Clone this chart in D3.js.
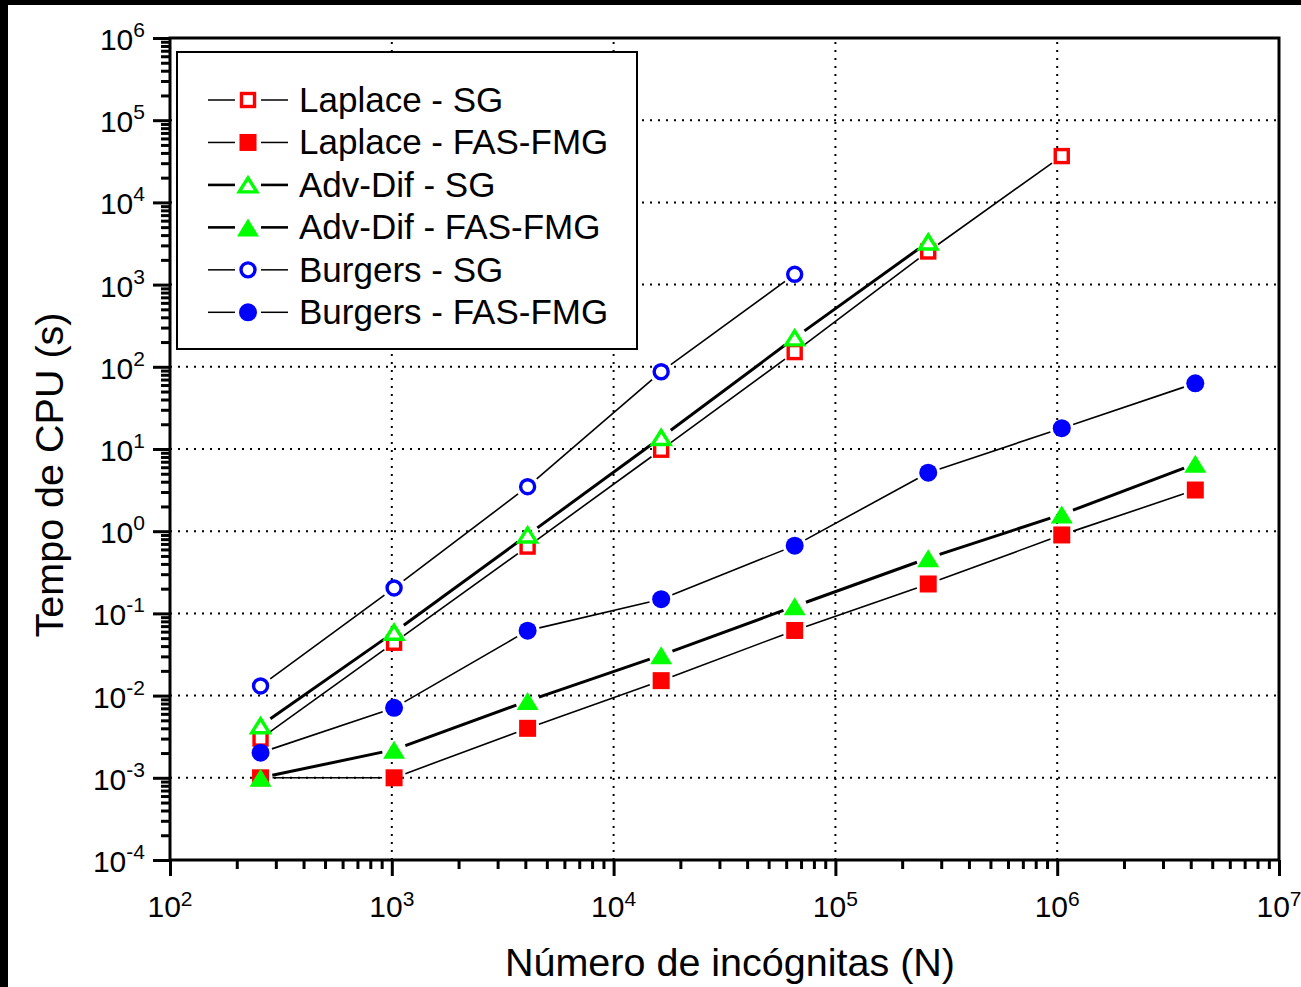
<!DOCTYPE html>
<html>
<head>
<meta charset="utf-8">
<script src="https://cdn.jsdelivr.net/npm/d3@7"></script>
<style>
  html, body { margin: 0; padding: 0; background: #fff; }
  svg { display: block; }
  text { font-family: "Liberation Sans", Arial, Helvetica, sans-serif; fill: #000; }
</style>
</head>
<body>
<svg id="chart" width="1301" height="987"></svg>
<script>
// Number of unknowns (N) for each grid level
const unknowns = [256, 1024, 4096, 16384, 65536, 262144, 1048576, 4194304];

// CPU time (s) for each solver / problem
const laplaceSG  = [0.0030, 0.044, 0.65, 9.8, 151, 2530, 36600];
const laplaceFAS = [0.001, 0.001, 0.0040, 0.0152, 0.062, 0.228, 0.90, 3.17];
const advDifSG   = [0.0043, 0.059, 0.90, 13.8, 225, 3300];
const advDifFAS  = [0.001, 0.0022, 0.0086, 0.031, 0.122, 0.47, 1.6, 6.6];
const burgersSG  = [0.0131, 0.204, 3.48, 87, 1334];
const burgersFAS = [0.00202, 0.0071, 0.0617, 0.149, 0.667, 5.15, 17.9, 63];

const seriesNames = ["Laplace - SG", "Laplace - FAS-FMG", "Adv-Dif - SG", "Adv-Dif - FAS-FMG", "Burgers - SG", "Burgers - FAS-FMG"];

// Axis tick exponents
const xExponents = [2, 3, 4, 5, 6, 7];
const yExponents = [-4, -3, -2, -1, 0, 1, 2, 3, 4, 5, 6];

const axisTitleX = "Número de incógnitas (N)";
const axisTitleY = "Tempo de CPU (s)";

const series = [
  { name: seriesNames[0], values: laplaceSG,  color: "#ff0000", shape: "square",   filled: false, lw: 1.6 },
  { name: seriesNames[1], values: laplaceFAS, color: "#ff0000", shape: "square",   filled: true,  lw: 1.6 },
  { name: seriesNames[2], values: advDifSG,   color: "#00ff00", shape: "triangle", filled: false, lw: 3 },
  { name: seriesNames[3], values: advDifFAS,  color: "#00ff00", shape: "triangle", filled: true,  lw: 3 },
  { name: seriesNames[4], values: burgersSG,  color: "#0000ff", shape: "circle",   filled: false, lw: 1.6 },
  { name: seriesNames[5], values: burgersFAS, color: "#0000ff", shape: "circle",   filled: true,  lw: 1.6 }
];

const svg = d3.select("#chart");

// Page frame strips
svg.append("rect").attr("x", 0).attr("y", 0).attr("width", 1301).attr("height", 987).attr("fill", "#fff");
svg.append("rect").attr("x", 0).attr("y", 0).attr("width", 8).attr("height", 987).attr("fill", "#000");
svg.append("rect").attr("x", 0).attr("y", 0).attr("width", 1301).attr("height", 5).attr("fill", "#000");

const plotLeft = 170, plotRight = 1279, plotTop = 38, plotBottom = 860;

const x = d3.scaleLog().domain([1e2, 1e7]).range([plotLeft, plotRight]);
const y = d3.scaleLog().domain([1e-4, 1e6]).range([plotBottom, plotTop]);

const xMajor = xExponents.map(e => Math.pow(10, e));
const yMajor = yExponents.map(e => Math.pow(10, e));
const minorOf = (majors) => {
  const out = [];
  for (let i = 0; i < majors.length - 1; i++)
    for (let k = 2; k <= 9; k++) out.push(majors[i] * k);
  return out;
};
const xMinor = minorOf(xMajor);
const yMinor = minorOf(yMajor);

// Dotted grid at inner decades
const grid = svg.append("g").attr("stroke", "#000").attr("stroke-width", 2).attr("stroke-dasharray", "2,6");
xMajor.slice(1, -1).forEach(v => {
  grid.append("line").attr("x1", x(v)).attr("x2", x(v)).attr("y1", plotBottom).attr("y2", plotTop);
});
yMajor.slice(1, -1).forEach(v => {
  grid.append("line").attr("x1", plotLeft).attr("x2", plotRight).attr("y1", y(v)).attr("y2", y(v));
});

// Connecting lines, trimmed to leave a gap around each marker
const gap = 12;
const linesG = svg.append("g").attr("stroke", "#000").attr("fill", "none");
series.forEach(s => {
  const pts = s.values.map((v, i) => [x(unknowns[i]), y(v)]);
  for (let i = 0; i < pts.length - 1; i++) {
    const [x0, y0] = pts[i], [x1, y1] = pts[i + 1];
    const dx = x1 - x0, dy = y1 - y0, len = Math.hypot(dx, dy);
    if (len <= 2 * gap) continue;
    const ux = dx / len, uy = dy / len;
    linesG.append("line")
      .attr("x1", x0 + ux * gap).attr("y1", y0 + uy * gap)
      .attr("x2", x1 - ux * gap).attr("y2", y1 - uy * gap)
      .attr("stroke-width", s.lw);
  }
});

// Marker drawing
function drawMarker(g, shape, filled, color, cx, cy) {
  if (shape === "square") {
    if (filled) {
      g.append("rect").attr("x", cx - 8.5).attr("y", cy - 8.5).attr("width", 17).attr("height", 17).attr("fill", color);
    } else {
      g.append("rect").attr("x", cx - 6.5).attr("y", cy - 6.5).attr("width", 13).attr("height", 13)
        .attr("fill", "#fff").attr("stroke", color).attr("stroke-width", 3.4);
    }
  } else if (shape === "circle") {
    if (filled) {
      g.append("circle").attr("cx", cx).attr("cy", cy).attr("r", 9).attr("fill", color);
    } else {
      g.append("circle").attr("cx", cx).attr("cy", cy).attr("r", 7).attr("fill", "#fff")
        .attr("stroke", color).attr("stroke-width", 3.4);
    }
  } else {
    if (filled) {
      const w = 11, h = 9;
      g.append("path").attr("d", `M${cx},${cy - h}L${cx + w},${cy + h}L${cx - w},${cy + h}Z`).attr("fill", color);
    } else {
      const w = 8.8, h = 7;
      g.append("path").attr("d", `M${cx},${cy - h}L${cx + w},${cy + h}L${cx - w},${cy + h}Z`)
        .attr("fill", "#fff").attr("stroke", color).attr("stroke-width", 3.4).attr("stroke-linejoin", "miter");
    }
  }
}

const markersG = svg.append("g");
series.forEach(s => {
  s.values.forEach((v, i) => drawMarker(markersG, s.shape, s.filled, s.color, x(unknowns[i]), y(v)));
});

// Axes: major and minor ticks pointing outward
const xAxisMajor = d3.axisBottom(x).tickValues(xMajor).tickSize(16).tickFormat("");
const xAxisMinor = d3.axisBottom(x).tickValues(xMinor).tickSize(9).tickFormat("");
const yAxisMajor = d3.axisLeft(y).tickValues(yMajor).tickSize(17).tickFormat("");
const yAxisMinor = d3.axisLeft(y).tickValues(yMinor).tickSize(9).tickFormat("");

[[xAxisMajor, `translate(0,${plotBottom})`], [xAxisMinor, `translate(0,${plotBottom})`],
 [yAxisMajor, `translate(${plotLeft},0)`], [yAxisMinor, `translate(${plotLeft},0)`]].forEach(([ax, tr]) => {
  const g = svg.append("g").attr("transform", tr).call(ax);
  g.select(".domain").remove();
  g.selectAll(".tick line").attr("stroke", "#000").attr("stroke-width", 3);
});

// Plot frame
svg.append("rect").attr("x", plotLeft).attr("y", plotTop).attr("width", plotRight - plotLeft).attr("height", plotBottom - plotTop)
  .attr("fill", "none").attr("stroke", "#000").attr("stroke-width", 3);

// Tick labels as powers of ten
const xLabels = svg.append("g");
xExponents.forEach(e => {
  const t = xLabels.append("text").attr("x", x(Math.pow(10, e))).attr("y", 917)
    .attr("text-anchor", "middle").attr("font-size", 30);
  t.append("tspan").text("10");
  t.append("tspan").attr("font-size", 21).attr("dy", -11).text(String(e));
});
const yLabels = svg.append("g");
yExponents.forEach(e => {
  const t = yLabels.append("text").attr("x", 145).attr("y", y(Math.pow(10, e)) + 12)
    .attr("text-anchor", "end").attr("font-size", 30);
  t.append("tspan").text("10");
  t.append("tspan").attr("font-size", 21).attr("dy", -13).text(String(e));
});

// Axis titles
svg.append("text").attr("x", 730).attr("y", 976).attr("text-anchor", "middle")
  .attr("font-size", 39.5).text(axisTitleX);
svg.append("text").attr("transform", "translate(63,475) rotate(-90)").attr("text-anchor", "middle")
  .attr("font-size", 39.5).text(axisTitleY);

// Legend
const legend = svg.append("g");
legend.append("rect").attr("x", 177).attr("y", 52).attr("width", 460).attr("height", 297)
  .attr("fill", "#fff").attr("stroke", "#000").attr("stroke-width", 2);
const rowY = d3.scaleLinear().domain([0, 5]).range([100, 312.3]);
series.forEach((s, i) => {
  const cy = rowY(i);
  legend.append("line").attr("x1", 208).attr("x2", 235).attr("y1", cy).attr("y2", cy)
    .attr("stroke", "#000").attr("stroke-width", s.lw === 3 ? 2.6 : 1.5);
  legend.append("line").attr("x1", 261).attr("x2", 288).attr("y1", cy).attr("y2", cy)
    .attr("stroke", "#000").attr("stroke-width", s.lw === 3 ? 2.6 : 1.5);
  drawMarker(legend, s.shape, s.filled, s.color, 248, cy);
  legend.append("text").attr("x", 299).attr("y", cy + 12).attr("font-size", 35).text(s.name);
});
</script>
</body>
</html>
